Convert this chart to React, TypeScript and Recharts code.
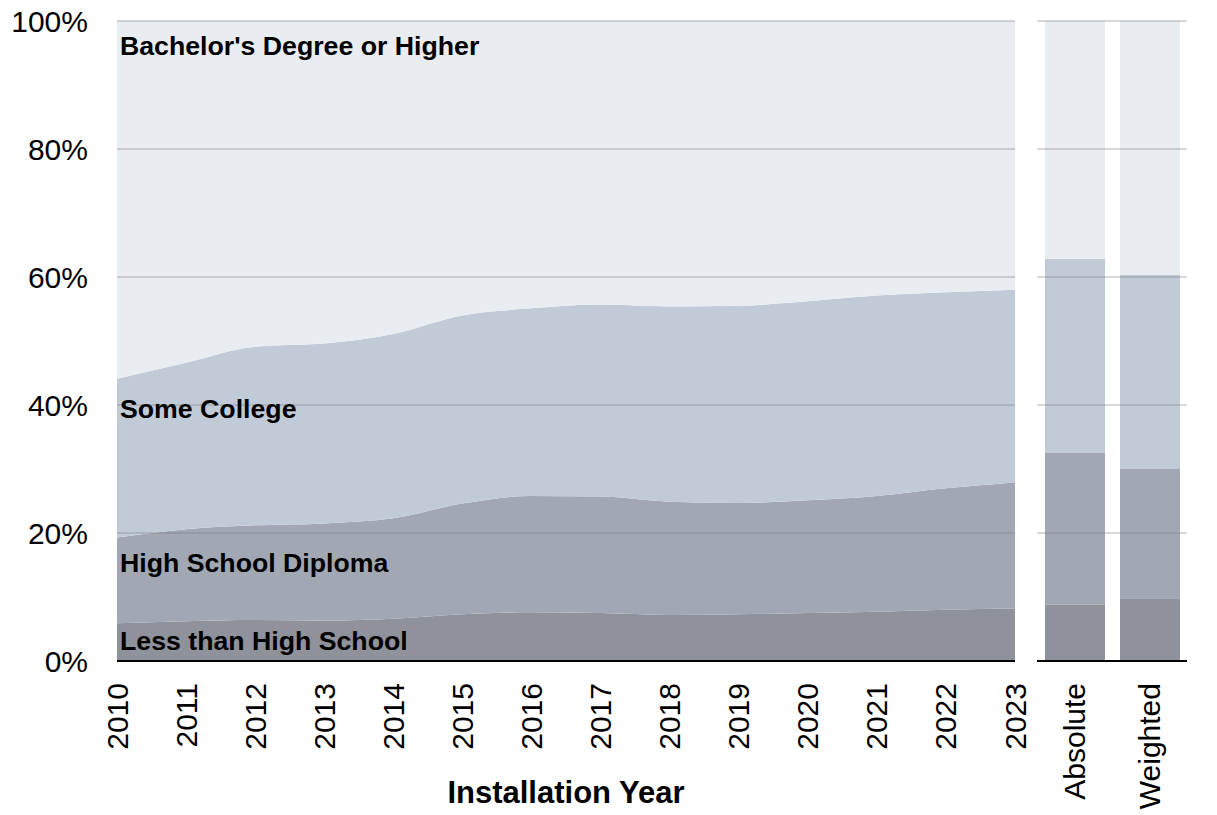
import { AreaChart, Area, BarChart, Bar, XAxis, YAxis, ReferenceLine, ReferenceDot, Label } from "recharts";

const years = [2010, 2011, 2012, 2013, 2014, 2015, 2016, 2017, 2018, 2019, 2020, 2021, 2022, 2023];
const lessThanHS = [5.9, 6.2, 6.4, 6.3, 6.6, 7.3, 7.6, 7.5, 7.2, 7.3, 7.5, 7.7, 8.0, 8.2];
const highSchool = [13.4, 14.4, 14.8, 15.2, 15.7, 17.3, 18.2, 18.2, 17.7, 17.4, 17.6, 18.1, 19.0, 19.7];
const someCollege = [24.8, 26.0, 27.9, 28.1, 28.8, 29.4, 29.3, 30.0, 30.5, 30.8, 31.1, 31.3, 30.6, 30.1];
const bachelors = [55.9, 53.4, 50.9, 50.4, 48.9, 46.0, 44.9, 44.3, 44.6, 44.5, 43.8, 42.9, 42.4, 42.0];

const barNames = ["Absolute", "Weighted"];
const barLess = [8.8, 9.8];
const barHS = [23.7, 20.2];
const barSC = [30.3, 30.3];
const barBA = [37.2, 39.7];

const yTicks = [0, 20, 40, 60, 80, 100];
const gridLines = [20, 40, 60, 80, 100];

const C_LESS = "#8F929B";
const C_HS = "#A1A8B3";
const C_SC = "#C1CBD8";
const C_BA = "#E9ECF1";
const FONT = "'Liberation Sans', Arial, sans-serif";

const areaData = years.map((y, i) => ({
  year: y,
  less: lessThanHS[i],
  hs: highSchool[i],
  sc: someCollege[i],
  ba: bachelors[i],
}));

const barData = barNames.map((n, i) => ({
  name: n,
  less: barLess[i],
  hs: barHS[i],
  sc: barSC[i],
  ba: barBA[i],
}));

const RotTick = (props: any) => {
  const { x, y, payload } = props;
  return (
    <text
      transform={`translate(${x},${y + 22}) rotate(-90)`}
      textAnchor="end"
      dy="0.35em"
      fontSize={30}
      fontFamily={FONT}
      fill="#000"
    >
      {payload.value}
    </text>
  );
};

const PctTick = (props: any) => {
  const { x, y, payload } = props;
  return (
    <text x={x} y={y} textAnchor="end" dy="0.35em" fontSize={30} fontFamily={FONT} fill="#000">
      {payload.value}%
    </text>
  );
};

const labelStyle = { fontSize: 26.7, fontWeight: "bold", fill: "#000", fontFamily: FONT };

const gridStroke = { stroke: "#7f7f7f", strokeOpacity: 0.3, strokeWidth: 2 };

export default function App() {
  return (
    <div style={{ position: "absolute", left: 0, top: 0, width: 1217, height: 815, background: "#fff", fontFamily: FONT }}>
      <div style={{ position: "absolute", left: 0, top: 0 }}>
        <AreaChart width={1040} height={815} data={areaData} margin={{ top: 21, right: 25, bottom: 0, left: 0 }}>
          <XAxis
            dataKey="year"
            height={154}
            tickLine={false}
            tickSize={0}
            tickMargin={0}
            axisLine={{ stroke: "#000", strokeWidth: 2 }}
            tick={<RotTick />}
            interval={0}
          >
            <Label
              value="Installation Year"
              position="insideBottom"
              offset={12}
              fontSize={31}
              fontWeight="bold"
              fill="#000"
              fontFamily={FONT}
            />
          </XAxis>
          <YAxis
            width={117}
            domain={[0, 100]}
            ticks={yTicks}
            axisLine={false}
            tickLine={false}
            tickSize={0}
            tickMargin={29}
            tick={<PctTick />}
            interval={0}
          />
          <Area type="monotone" dataKey="less" stackId="1" stroke="none" fill={C_LESS} fillOpacity={1} isAnimationActive={false} />
          <Area type="monotone" dataKey="hs" stackId="1" stroke="none" fill={C_HS} fillOpacity={1} isAnimationActive={false} />
          <Area type="monotone" dataKey="sc" stackId="1" stroke="none" fill={C_SC} fillOpacity={1} isAnimationActive={false} />
          <Area type="monotone" dataKey="ba" stackId="1" stroke="none" fill={C_BA} fillOpacity={1} isAnimationActive={false} />
          {gridLines.map((v) => (
            <ReferenceLine key={v} y={v} {...gridStroke} />
          ))}
          <ReferenceDot x={years[0]} y={96.1} r={0} fill="none" stroke="none" label={{ value: "Bachelor's Degree or Higher", position: "right", offset: 3, ...labelStyle }} />
          <ReferenceDot x={years[0]} y={39.5} r={0} fill="none" stroke="none" label={{ value: "Some College", position: "right", offset: 3, ...labelStyle }} />
          <ReferenceDot x={years[0]} y={15.4} r={0} fill="none" stroke="none" label={{ value: "High School Diploma", position: "right", offset: 3, ...labelStyle }} />
          <ReferenceDot x={years[0]} y={3.2} r={0} fill="none" stroke="none" label={{ value: "Less than High School", position: "right", offset: 3, ...labelStyle }} />
        </AreaChart>
      </div>
      <div style={{ position: "absolute", left: 1027, top: 0 }}>
        <BarChart width={190} height={815} data={barData} margin={{ top: 21, right: 30, bottom: 0, left: 10 }}>
          <XAxis
            dataKey="name"
            height={154}
            tickLine={false}
            tickSize={0}
            tickMargin={0}
            axisLine={{ stroke: "#000", strokeWidth: 2 }}
            tick={<RotTick />}
            interval={0}
          />
          <YAxis hide domain={[0, 100]} ticks={yTicks} />
          <Bar dataKey="less" stackId="b" fill={C_LESS} barSize={60} isAnimationActive={false} />
          <Bar dataKey="hs" stackId="b" fill={C_HS} barSize={60} isAnimationActive={false} />
          <Bar dataKey="sc" stackId="b" fill={C_SC} barSize={60} isAnimationActive={false} />
          <Bar dataKey="ba" stackId="b" fill={C_BA} barSize={60} isAnimationActive={false} />
          {gridLines.map((v) => (
            <ReferenceLine key={v} y={v} {...gridStroke} />
          ))}
        </BarChart>
      </div>
    </div>
  );
}
